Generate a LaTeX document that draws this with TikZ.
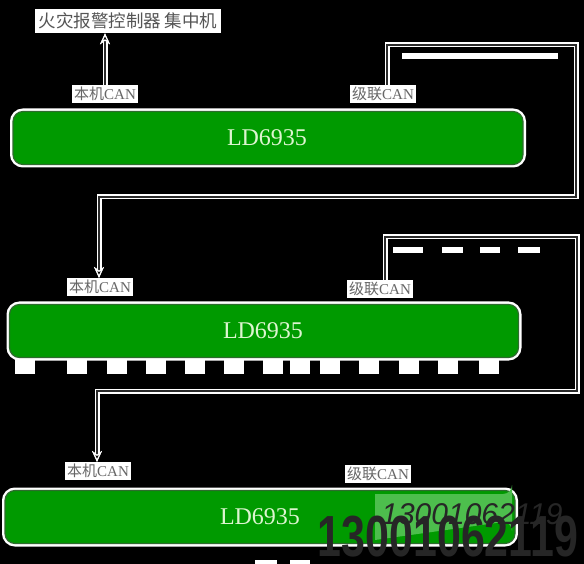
\documentclass[tikz,border=0pt]{standalone}
\usepackage{fontspec}
\newfontfamily\cjk{Noto Sans CJK SC}
\newfontfamily\ser{Liberation Serif}
\newfontfamily\wm{Liberation Sans}
\newfontfamily\wmb{Liberation Sans Bold}
\usetikzlibrary{arrows.meta}
\definecolor{barg}{HTML}{009A00}
\definecolor{bard}{HTML}{2E6B2E}
\definecolor{bartext}{HTML}{DDF5D0}
\definecolor{labtext}{HTML}{666666}
\definecolor{titletext}{HTML}{555555}
\definecolor{linec}{HTML}{2A2A2A}
\definecolor{lightg}{HTML}{4DBE4D}
\begin{document}
\begin{tikzpicture}[x=1pt,y=-1pt,
  bar/.style={draw=bard, fill=barg, line width=1.2pt, rounded corners=10pt,
    minimum width=#1, minimum height=53pt, inner sep=0pt,
    preaction={draw=white, line width=6pt}},
  bartxt/.style={text=bartext, font=\ser\fontsize{24}{24}\selectfont},
  lab/.style={fill=white, inner sep=2pt, text=labtext, font=\cjk\fontsize{15}{15}\selectfont},
  conn/.style={draw=linec, line width=2.4pt, preaction={draw=white, line width=5pt}},
  arr/.style={conn, -{Stealth[length=11pt,width=10pt,line width=1.2pt,color=white,fill=black]}},
  sq/.style={fill=white}
]
\fill[black] (0,0) rectangle (584,564);
\useasboundingbox (0,0) rectangle (584,564);

% title
\node[fill=white, inner sep=4pt, text=titletext, font=\cjk\fontsize{17.5}{17.5}\selectfont] (title) at (128,21) {火灾报警控制器\ 集中机};

% bars
\node[bar=510pt] (b1) at (268,138) {};
\node[bartxt] (t1) at (267,138) {LD6935};
\node[bar=509pt] (b2) at (264,331) {};
\node[bartxt] (t2) at (263,331) {LD6935};
\node[bar=510pt] (b3) at (260,517) {};
\fill[lightg] (375,494) -- (503,494) arc[start angle=90, end angle=0, radius=9] -- (512,531) arc[start angle=0, end angle=-90, radius=9] -- (375,540) -- cycle;
\node[bartxt] (t3) at (260,517) {LD6935};

% labels
\node[lab] (ben1) at (105,94) {本机{\ser CAN}};
\node[lab] (ji1) at (383,94) {级联{\ser CAN}};
\node[lab] (ben2) at (100,287) {本机{\ser CAN}};
\node[lab] (ji2) at (380,289) {级联{\ser CAN}};
\node[lab] (ben3) at (98,471) {本机{\ser CAN}};
\node[lab] (ji3) at (378,474) {级联{\ser CAN}};

% connectors
\draw[arr] (ben1.north) -- (title.south -| ben1.north);

\coordinate (c1a) at (387,45);
\coordinate (c1b) at (576,45);
\coordinate (c1c) at (576,197);
\coordinate (c1d) at (99,197);
\draw[arr] (ji1.north -| c1a) -- (c1a) -- (c1b) -- (c1c) -- (c1d) -- (ben2.north -| c1d);

\coordinate (c2a) at (385,237);
\coordinate (c2b) at (577,237);
\coordinate (c2c) at (577,391);
\coordinate (c2d) at (97,391);
\draw[arr] (ji2.north -| c2a) -- (c2a) -- (c2b) -- (c2c) -- (c2d) -- (ben3.north -| c2d);

% white artefact lines
\fill[white] (402,53) rectangle (558,59);
\foreach \a/\b in {393/423, 442/463, 480/500, 518/540}
  \fill[white] (\a,247) rectangle (\b,253);

% white notches below bar 2
\foreach \c in {25,77,117,156,195,234,273,300,330,369,409,448,489}
  \fill[sq] (\c-10,359) rectangle (\c+10,374);

% bottom artefacts
\fill[white] (255,560) rectangle (277,564);
\fill[white] (290,560) rectangle (310,564);

% watermark
\node[text=black!85, font=\wm\itshape\fontsize{30}{30}\selectfont, inner sep=0pt] (wm1) at (472,514) {13001062119};
\node[text=black!85, font=\wmb\fontsize{58}{58}\selectfont, inner sep=0pt, xscale=0.74, anchor=base] (wm2) at (448,556) {13001062119};
\end{tikzpicture}
\end{document}
